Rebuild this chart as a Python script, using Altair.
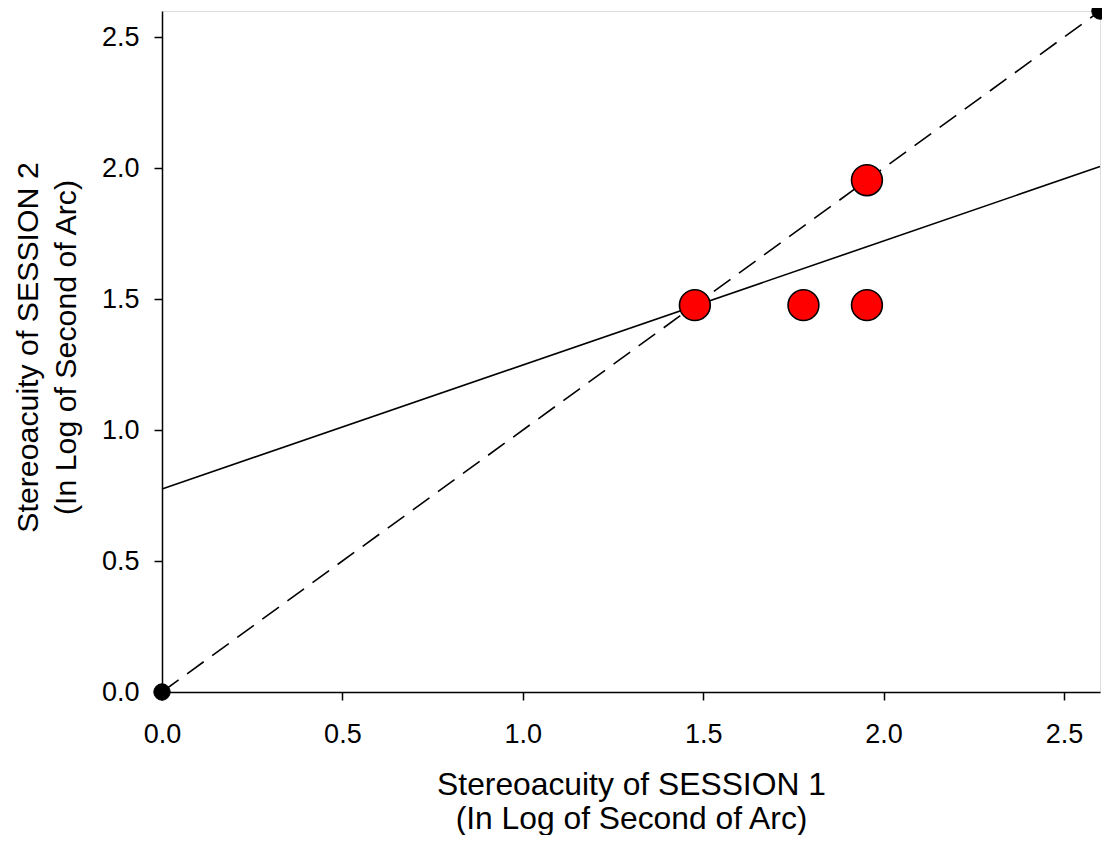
import altair as alt
import pandas as pd

# Data
session1 = [1.477, 1.778, 1.954, 1.954]
session2 = [1.477, 1.477, 1.477, 1.954]
identity_x = [0.0, 2.6]
identity_y = [0.0, 2.6]
reg_x = [0.0, 2.6]
reg_y = [0.775, 2.006]
tick_vals = [0.0, 0.5, 1.0, 1.5, 2.0, 2.5]

pts = pd.DataFrame({"s1": session1, "s2": session2})
ident = pd.DataFrame({"s1": identity_x, "s2": identity_y})
reg = pd.DataFrame({"s1": reg_x, "s2": reg_y})

FONT = "Liberation Sans"
W, H = 938, 681

xscale = alt.Scale(domain=[0, 2.6], nice=False, zero=False)
yscale = alt.Scale(domain=[0, 2.6], nice=False, zero=False)

xaxis = alt.Axis(
    values=tick_vals, format=".1f", grid=False, labelFlush=False,
    title=["Stereoacuity of SESSION 1", "(In Log of Second of Arc)"],
    titleFont=FONT, titleFontSize=31.8, titleFontWeight="normal", titleColor="black",
    titleLineHeight=34, titleAlign="center", titleBaseline="alphabetic",
    titleX=W / 2, titleY=102,
    labelFont=FONT, labelFontSize=27, labelColor="black", labelPadding=21,
    tickColor="black", tickWidth=1.5, tickSize=8,
    domainColor="black", domainWidth=1.5,
)
yaxis = alt.Axis(
    values=tick_vals, format=".1f", grid=False, labelFlush=False,
    title=["Stereoacuity of SESSION 2", "(In Log of Second of Arc)"],
    titleFont=FONT, titleFontSize=30.3, titleFontWeight="normal", titleColor="black",
    titleLineHeight=38, titleAlign="center", titleBaseline="alphabetic",
    titleAngle=270, titleX=-125, titleY=336,
    labelFont=FONT, labelFontSize=27, labelColor="black", labelPadding=15,
    tickColor="black", tickWidth=1.5, tickSize=8,
    domainColor="black", domainWidth=1.5,
)

x_enc = alt.X("s1:Q", scale=xscale, axis=xaxis)
y_enc = alt.Y("s2:Q", scale=yscale, axis=yaxis)

ident_line = alt.Chart(ident).mark_line(
    color="black", strokeWidth=1.6, strokeDash=[20.5, 10.5]
).encode(x=x_enc, y=y_enc)

reg_line = alt.Chart(reg).mark_line(
    color="black", strokeWidth=1.6
).encode(x="s1:Q", y="s2:Q")

red_pts = alt.Chart(pts).mark_point(
    shape="circle", filled=True, fill="#ff0000", stroke="black",
    strokeWidth=1.6, size=950, opacity=1
).encode(x="s1:Q", y="s2:Q")

end_pts = alt.Chart(ident).mark_point(
    shape="circle", filled=True, fill="black", stroke="black",
    strokeWidth=1, size=270, opacity=1
).encode(x="s1:Q", y="s2:Q")

chart = alt.layer(ident_line, reg_line, red_pts, end_pts).properties(
    width=W, height=H,
    autosize=alt.AutoSizeParams(type="none"),
    padding={"left": 154, "top": 3, "right": 2, "bottom": 143},
).configure_view(
    stroke="black", strokeWidth=1.5
).configure(background="white")

chart.save("out.html", embed_options={"renderer": "svg", "actions": False})
